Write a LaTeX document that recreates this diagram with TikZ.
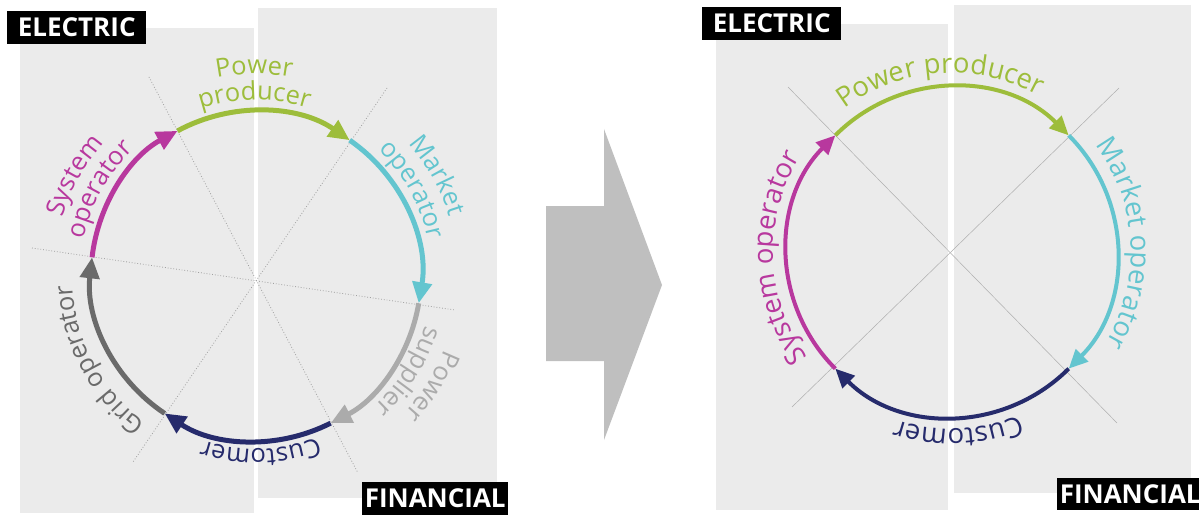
\documentclass[tikz,border=0pt]{standalone}
\usepackage{fontspec}
\setmainfont{Open Sans}
\usetikzlibrary{arrows.meta,decorations.text,calc}
\definecolor{panel}{HTML}{EBEBEB}
\definecolor{bigarrow}{HTML}{BFBFBF}
\definecolor{pgreen}{HTML}{9DBD3B}
\definecolor{pcyan}{HTML}{63C5CF}
\definecolor{pmag}{HTML}{B8389E}
\definecolor{pdgray}{HTML}{6A6A6A}
\definecolor{plgray}{HTML}{ABABAB}
\definecolor{pnavy}{HTML}{262B6C}
\definecolor{guidegray}{HTML}{A0A0A0}
\tikzset{
  panelbox/.style={fill=panel, draw=none},
  tagbox/.style={fill=black, text=white, font=\fontsize{26}{26}\selectfont\bfseries, inner sep=0pt, anchor=south west},
  ringL/.style={line width=5pt, -{Triangle[length=21pt,width=19pt]}},
  ringR/.style={line width=4pt, -{Triangle[length=19pt,width=17pt]}},
  guideL/.style={draw=guidegray, line width=0.8pt, dotted},
  guideR/.style={draw=guidegray!85, line width=0.5pt},
}
% #1 centre, #2 radius, #3 centre angle, #4 format, #5 text
\newcommand\ringlabel[5]{%
  \path[decorate, decoration={text along path, text align=center, text={|#4|#5}}]
    (#1) ++({#3+70}:#2) arc[start angle={#3+70}, end angle={#3-70}, radius=#2];}
\newcommand\fL{\fontsize{25.5}{25.5}\selectfont}
\newcommand\fR{\fontsize{27.5}{27.5}\selectfont}
\begin{document}
\begin{tikzpicture}[x=1pt,y=1pt]
\useasboundingbox (0,0) rectangle (1199,515);
% ---------------- left diagram ----------------
\fill[panelbox] (20,2) rectangle (254,487);
\fill[panelbox] (258,17) rectangle (497,507);
\draw[guideL] (32,267) -- (455,205);
\draw[guideL] (149,438) -- (358,42);
\draw[guideL] (387,427) -- (133,53);
\coordinate (L) at (256,239);
\def\rL{165}
\coordinate (L1) at ($(L)+(118.4:\rL)$);
\coordinate (L2) at ($(L)+(55.4:\rL)$);
\coordinate (L3) at ($(L)+(-9.5:\rL)$);
\coordinate (L4) at ($(L)+(-63.1:\rL)$);
\coordinate (L5) at ($(L)+(-123.6:\rL)$);
\coordinate (L6) at ($(L)+(173.5:\rL)$);
\draw[ringL, pgreen] (L1) arc[start angle=118.4, end angle=55.4, radius=\rL];
\draw[ringL, pcyan] (L2) arc[start angle=55.4, end angle=-9.5, radius=\rL];
\draw[ringL, plgray] (L3) arc[start angle=-9.5, end angle=-63.1, radius=\rL];
\draw[ringL, pnavy] (L4) arc[start angle=-63.1, end angle=-123.6, radius=\rL];
\draw[ringL, pdgray] (L5) arc[start angle=-123.6, end angle=-186.5, radius=\rL];
\draw[ringL, pmag] (L6) arc[start angle=173.5, end angle=118.4, radius=\rL];
\ringlabel{L}{202}{90.5}{\fL\color{pgreen}}{Power}
\ringlabel{L}{176}{90.5}{\fL\color{pgreen}}{producer}
\ringlabel{L}{202}{29}{\fL\color{pcyan}}{Market}
\ringlabel{L}{176}{29}{\fL\color{pcyan}}{operator}
\ringlabel{L}{202}{-32}{\fL\color{plgray}}{Power}
\ringlabel{L}{176}{-32}{\fL\color{plgray}}{supplier}
\ringlabel{L}{173}{-88.5}{\fL\color{pnavy}}{Customer}
\ringlabel{L}{184}{-152}{\fL\color{pdgray}}{Grid operator}
\ringlabel{L}{202}{151}{\fL\color{pmag}}{System}
\ringlabel{L}{176}{151}{\fL\color{pmag}}{operator}
\node[tagbox, minimum width=139pt, minimum height=33pt] (elecL) at (7,471) {ELECTRIC};
\node[tagbox, minimum width=146pt, minimum height=33pt] (finL) at (362,0) {FINANCIAL};
% ---------------- big arrow ----------------
\fill[bigarrow] (546,154) -- (604,154) -- (604,75) -- (662,230) -- (604,386) -- (604,309) -- (546,309) -- cycle;
% ---------------- right diagram ----------------
\fill[panelbox] (716,5) rectangle (948,491);
\fill[panelbox] (954,22) rectangle (1191,510);
\draw[guideR] (788,428) -- (1117,92);
\draw[guideR] (1119,427) -- (792,108);
\coordinate (R) at (952,263);
\def\rR{165}
\coordinate (R1) at ($(R)+(135:\rR)$);
\coordinate (R2) at ($(R)+(45:\rR)$);
\coordinate (R3) at ($(R)+(-45:\rR)$);
\coordinate (R4) at ($(R)+(-135:\rR)$);
\draw[ringR, pgreen] (R1) arc[start angle=135, end angle=45, radius=\rR];
\draw[ringR, pcyan] (R2) arc[start angle=45, end angle=-45, radius=\rR];
\draw[ringR, pnavy] (R3) arc[start angle=-45, end angle=-135, radius=\rR];
\draw[ringR, pmag] (R4) arc[start angle=-135, end angle=-225, radius=\rR];
\ringlabel{R}{179}{94}{\fR\color{pgreen}}{Power producer}
\ringlabel{R}{179}{3}{\fR\color{pcyan}}{Market operator}
\ringlabel{R}{177}{-88}{\fR\color{pnavy}}{Customer}
\ringlabel{R}{179}{182}{\fR\color{pmag}}{System operator}
\node[tagbox, minimum width=139pt, minimum height=33pt] (elecR) at (702,475) {ELECTRIC};
\node[tagbox, minimum width=146pt, minimum height=32pt] (finR) at (1057,5) {FINANCIAL};
\end{tikzpicture}
\end{document}
